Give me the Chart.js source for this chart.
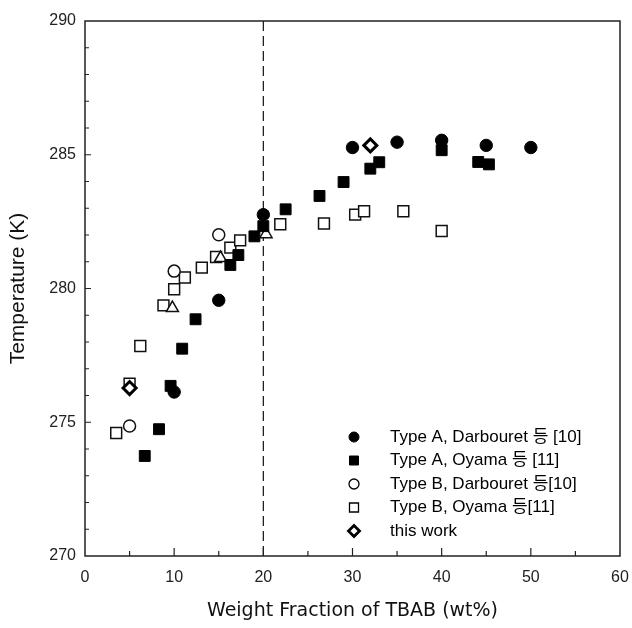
<!DOCTYPE html>
<html>
<head>
<meta charset="utf-8">
<script src="https://cdn.jsdelivr.net/npm/chart.js@4/dist/chart.umd.min.js"></script>
<style>
  html, body { margin: 0; padding: 0; background: #fff; }
  #wrap { width: 632px; height: 628px; }
</style>
</head>
<body>
<div id="wrap"><canvas id="hydrate"></canvas></div>
<script>
// Type A, Darbouret (filled circles)
var aDarbX = [10.0, 15.0, 20.0, 30.0, 35.0, 40.0, 45.0, 50.0];
var aDarbT = [276.13, 279.56, 282.76, 285.27, 285.47, 285.54, 285.35, 285.27];
// Type A, Oyama (filled squares)
var aOyaX = [6.7, 8.3, 9.6, 10.9, 12.4, 16.3, 17.2, 19.0, 20.0, 22.5, 26.3, 29.0, 32.0, 33.0, 40.0, 44.1, 45.3];
var aOyaT = [273.74, 274.74, 276.36, 277.75, 278.85, 280.88, 281.25, 281.95, 282.33, 282.96, 283.46, 283.98, 284.48, 284.72, 285.17, 284.73, 284.64];
// Type B, Darbouret (open circles)
var bDarbX = [5.0, 10.0, 15.0];
var bDarbT = [274.86, 280.65, 282.01];
// Type B, Oyama (open squares)
var bOyaX = [3.5, 5.0, 6.2, 8.8, 10.0, 11.2, 13.1, 14.7, 16.3, 17.4, 21.9, 26.8, 30.3, 31.3, 35.7, 40.0];
var bOyaT = [274.60, 276.44, 277.85, 279.37, 279.97, 280.41, 280.78, 281.18, 281.53, 281.80, 282.40, 282.43, 282.76, 282.89, 282.89, 282.15];
// open triangles (not in legend)
var triX = [9.8, 15.2, 20.3];
var triT = [279.27, 281.14, 282.03];
// this work (diamonds)
var workX = [5.0, 32.0];
var workT = [276.28, 285.35];

var xTicks = [0, 10, 20, 30, 40, 50, 60];
var yTicks = [270, 275, 280, 285, 290];
var boundaryX = 20;

function pts(xs, ys) {
  return xs.map(function (x, i) { return { x: x, y: ys[i] }; });
}

var tickFont = { family: '"Liberation Sans", Arial, sans-serif', size: 16 };

// frame, inward ticks, dashed line and the legend
var decor = {
  id: 'decor',
  beforeDatasetsDraw: function (chart) {
    var ctx = chart.ctx, a = chart.chartArea, xs = chart.scales.x;
    var px = xs.getPixelForValue(boundaryX);
    ctx.save();
    ctx.strokeStyle = '#111';
    ctx.lineWidth = 1.2;
    ctx.setLineDash([10, 5]);
    ctx.beginPath();
    ctx.moveTo(px, a.top);
    ctx.lineTo(px, a.bottom);
    ctx.stroke();
    ctx.restore();
  },
  afterDatasetsDraw: function (chart) {
    var ctx = chart.ctx, a = chart.chartArea, xs = chart.scales.x, ys = chart.scales.y;
    ctx.save();
    ctx.strokeStyle = '#222';
    ctx.lineWidth = 1.5;
    ctx.strokeRect(a.left, a.top, a.right - a.left, a.bottom - a.top);
    ctx.lineWidth = 1.2;
    ctx.beginPath();
    for (var v = 5; v < 60; v += 5) {
      var p = xs.getPixelForValue(v);
      var len = v % 10 === 0 ? 8 : 5;
      ctx.moveTo(p, a.bottom);
      ctx.lineTo(p, a.bottom - len);
    }
    for (var t = 271; t < 290; t++) {
      var q = ys.getPixelForValue(t);
      var l2 = t % 5 === 0 ? 6 : 4;
      ctx.moveTo(a.left, q);
      ctx.lineTo(a.left + l2, q);
    }
    ctx.stroke();
    ctx.restore();
  },
  afterDraw: function (chart) {
    var ctx = chart.ctx;
    var x0 = 354, y0 = 437, step = 23.5;
    var rows = chart.data.datasets.filter(function (d) { return d.label; })
      .sort(function (a, b) { return a.legendRank - b.legendRank; });
    ctx.save();
    ctx.font = '17px "Liberation Sans", Arial, "Noto Sans CJK KR", sans-serif';
    ctx.textBaseline = 'middle';
    ctx.fillStyle = '#000';
    rows.forEach(function (d, i) {
      var y = y0 + i * step;
      ctx.save();
      ctx.fillStyle = d.backgroundColor;
      ctx.strokeStyle = '#000';
      ctx.lineWidth = d.legendBorder;
      ctx.beginPath();
      if (d.pointStyle === 'circle') {
        ctx.arc(x0, y, 5, 0, Math.PI * 2);
      } else if (d.pointStyle === 'rect') {
        ctx.rect(x0 - 4.5, y - 4.5, 9, 9);
      } else {
        ctx.moveTo(x0, y - 5.5);
        ctx.lineTo(x0 + 5.5, y);
        ctx.lineTo(x0, y + 5.5);
        ctx.lineTo(x0 - 5.5, y);
        ctx.closePath();
      }
      ctx.fill();
      ctx.stroke();
      ctx.restore();
      ctx.fillText(d.label, 390, y);
    });
    ctx.restore();
  }
};

new Chart(document.getElementById('hydrate'), {
  type: 'scatter',
  data: {
    datasets: [
      { label: 'Type B, Oyama 등[11]', data: pts(bOyaX, bOyaT), pointStyle: 'rect', radius: 7.7,
        backgroundColor: '#fff', borderColor: '#111', borderWidth: 1.5, legendBorder: 1.3, legendRank: 4, order: 6 },
      { label: '', data: pts(triX, triT), pointStyle: 'triangle', radius: 7,
        backgroundColor: '#fff', borderColor: '#111', borderWidth: 1.5, order: 5 },
      { label: 'Type B, Darbouret 등[10]', data: pts(bDarbX, bDarbT), pointStyle: 'circle', radius: 6,
        backgroundColor: '#fff', borderColor: '#111', borderWidth: 1.5, legendBorder: 1.3, legendRank: 3, order: 4 },
      { label: 'Type A, Oyama 등 [11]', data: pts(aOyaX, aOyaT), pointStyle: 'rect', radius: 7.7,
        backgroundColor: '#000', borderColor: '#000', borderWidth: 1, legendBorder: 1, legendRank: 2, order: 3 },
      { label: 'Type A, Darbouret 등 [10]', data: pts(aDarbX, aDarbT), pointStyle: 'circle', radius: 6.2,
        backgroundColor: '#000', borderColor: '#000', borderWidth: 1, legendBorder: 1, legendRank: 1, order: 2 },
      { label: 'this work', data: pts(workX, workT), pointStyle: 'rectRot', radius: 6.5,
        backgroundColor: '#fff', borderColor: '#000', borderWidth: 3, legendBorder: 2.8, legendRank: 5, order: 1 }
    ]
  },
  options: {
    responsive: true,
    maintainAspectRatio: false,
    animation: false,
    layout: { padding: { left: 6, right: 12, top: 21, bottom: 6 } },
    plugins: { legend: { display: false }, tooltip: { enabled: false } },
    scales: {
      x: {
        type: 'linear', min: 0, max: 60,
        afterFit: function (s) { s.height = 66; s.paddingLeft = 0; s.paddingRight = 0; },
        afterBuildTicks: function (s) { s.ticks = xTicks.map(function (v) { return { value: v }; }); },
        grid: { display: false, drawTicks: false },
        border: { display: false },
        ticks: { font: tickFont, color: '#222', padding: 12, maxRotation: 0 },
        title: { display: true, text: 'Weight Fraction of TBAB (wt%)', color: '#111', padding: 0,
                 font: { family: '"DejaVu Sans", Tahoma, sans-serif', size: 19 } }
      },
      y: {
        type: 'linear', min: 270, max: 290,
        afterFit: function (s) { s.width = 79; s.paddingTop = 0; s.paddingBottom = 0; },
        afterBuildTicks: function (s) { s.ticks = yTicks.map(function (v) { return { value: v }; }); },
        grid: { display: false, drawTicks: false },
        border: { display: false },
        ticks: { font: tickFont, color: '#222', padding: 9 },
        title: { display: true, text: 'Temperature (K)', color: '#111', padding: 0,
                 font: { family: '"Liberation Sans", Arial, sans-serif', size: 21 } }
      }
    }
  },
  plugins: [decor]
});
</script>
</body>
</html>
